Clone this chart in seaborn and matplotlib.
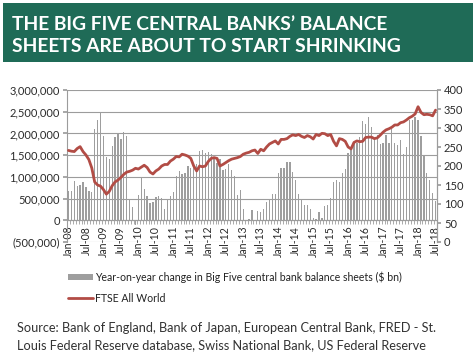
import numpy as np
import pandas as pd
import matplotlib
matplotlib.use("Agg")
import matplotlib.pyplot as plt
import matplotlib.patches as mpatches
from matplotlib.lines import Line2D
from matplotlib.ticker import FuncFormatter, FixedLocator
import seaborn as sns

# ---------------- data ----------------
months = pd.date_range("2008-01-01", "2018-07-01", freq="MS").strftime("%b-%y").tolist()

bs_change = [
    670, 670, 910, 780, 820, 880, 760, 670, 640, 2100, 2300, 2500,
    1930, 1450, 1410, 1700, 1920, 2000, 1880, 2030, 1950, 500, 300, -100,
    590, 990, 720, 570, 400, 410, 540, 550, 520, 260, 500, 550,
    640, 1020, 1130, 1060, 1080, 1240, 1200, 1260, 1300, 1590, 1610, 1540,
    1570, 1530, 1460, 1330, 1400, 1150, 1180, 1290, 1160, 1020, 590, 690,
    250, -10, 40, 230, 10, 215, 190, 250, 410, 485, 600, 615,
    1080, 1200, 1215, 1350, 1350, 1120, 920, 600, 485, 350, 350, 250,
    45, 25, 180, 60, 330, 350, 520, 890, 920, 890, 1080, 1180,
    1560, 1690, 1770, 1790, 1910, 2290, 2220, 2370, 2140, 1870, 1970, 1750,
    1790, 1970, 1770, 2100, 1790, 1740, 1850, 1520, 1690, 2310, 2310, 2370,
    2310, 1950, 1500, 1080, 930, 620, 450,
]
bs_change = [v * 1000 for v in bs_change]

ftse = [
    241, 239, 238, 246, 251, 238, 229, 217, 195, 158, 150, 147,
    138, 126, 133, 148, 158, 163, 170, 178, 184, 186, 189, 194,
    192, 197, 202, 196, 184, 179, 187, 192, 200, 204, 204, 213,
    218, 225, 224, 231, 229, 226, 220, 200, 187, 200, 198, 200,
    212, 220, 222, 220, 200, 204, 209, 214, 218, 220, 222, 225,
    231, 234, 236, 240, 242, 233, 244, 240, 250, 258, 262, 266,
    258, 270, 270, 272, 278, 282, 280, 283, 278, 275, 280, 277,
    271, 283, 280, 286, 285, 280, 283, 265, 253, 272, 270, 265,
    250, 245, 262, 266, 264, 265, 275, 276, 276, 272, 274, 281,
    289, 295, 298, 302, 308, 308, 314, 316, 321, 327, 331, 337,
    356, 341, 335, 336, 335, 332, 347,
]

title_lines = ["THE BIG FIVE CENTRAL BANKS\u2019 BALANCE",
               "SHEETS ARE ABOUT TO START SHRINKING"]
bar_label = "Year-on-year change in Big Five central bank balance sheets ($ bn)"
line_label = "FTSE All World"
source_lines = ["Source: Bank of England, Bank of Japan, European Central Bank, FRED - St.",
                "Louis Federal Reserve database, Swiss National Bank, US Federal Reserve"]

left_ticks = [-500000, 0, 500000, 1000000, 1500000, 2000000, 2500000, 3000000]
right_ticks = [0, 50, 100, 150, 200, 250, 300, 350, 400]

df = pd.DataFrame({"month": months, "pos": np.arange(len(months)),
                   "change": bs_change, "ftse": ftse})

# ---------------- style ----------------
sns.set_theme(style="white")
plt.rcParams["font.family"] = ["Lato", "DejaVu Sans"]

BAR = "#9e9e9e"
LINE = "#b24c45"
GRID = "#9c9c9c"
GREEN = "#1f6b57"
TXT = "#2b2b2b"

fig = plt.figure(figsize=(4.75, 3.57), dpi=100)
fig.patch.set_facecolor("white")

# title banner
fig.patches.append(mpatches.Rectangle((3 / 475, 1 - 62 / 357), 470 / 475, 59 / 357,
                                      transform=fig.transFigure, facecolor=GREEN,
                                      edgecolor="none", zorder=0))
fig.text(12 / 475, 1 - 24 / 357, title_lines[0], color="white", fontsize=13.9,
         fontweight="bold", va="center", ha="left")
fig.text(12 / 475, 1 - 47 / 357, title_lines[1], color="white", fontsize=13.9,
         fontweight="bold", va="center", ha="left")

ax = fig.add_axes([67 / 475, 1 - 242 / 357, 370 / 475, 152 / 357])
sns.barplot(data=df, x="pos", y="change", color=BAR, width=0.45, ax=ax,
            saturation=1, errorbar=None, edgecolor="none")
ax.set_ylim(-500000, 3000000)
ax.set_xlim(-0.5, len(months) - 0.5)
ax.yaxis.set_major_locator(FixedLocator(left_ticks))
ax.yaxis.set_major_formatter(FuncFormatter(
    lambda v, p: f"{v:,.0f}" if v >= 0 else f"({-v:,.0f})"))
ax.grid(axis="y", color=GRID, linewidth=0.8)
ax.set_axisbelow(True)
ax.set_xlabel("")
ax.set_ylabel("")
ax.set_xticks([])
ax.tick_params(axis="y", labelsize=8, labelcolor=TXT, length=3, color=GRID,
               left=True, pad=2)
for s in ["top", "bottom"]:
    ax.spines[s].set_visible(False)
for s in ["left", "right"]:
    ax.spines[s].set_color(GRID)
    ax.spines[s].set_linewidth(0.8)

# category axis at zero (Excel style): labels hang from the zero line
zero_frac = 500000 / 3500000
sec = ax.secondary_xaxis(zero_frac)
xt = list(range(0, len(months), 6))
sec.set_xticks(xt)
sec.set_xticklabels([months[i] for i in xt], rotation=90, fontsize=7.6, color=TXT)
sec.set_xticks(np.arange(-0.5, len(months), 1.0), minor=True)
sec.tick_params(axis="x", which="major", length=0, pad=4)
sec.tick_params(axis="x", which="minor", direction="out", length=3, color=GRID,
                width=0.6)
sec.spines["bottom"].set_color(GRID)
sec.spines["bottom"].set_linewidth(0.8)

ax2 = ax.twinx()
sns.lineplot(data=df, x="pos", y="ftse", color=LINE, linewidth=2.0, ax=ax2)
ax2.set_ylim(0, 400)
ax2.yaxis.set_major_locator(FixedLocator(right_ticks))
ax2.set_ylabel("")
ax2.set_xlabel("")
ax2.tick_params(axis="y", labelsize=8, labelcolor=TXT, length=3, color=GRID,
                right=True, pad=2)
for s in ["top", "bottom", "left"]:
    ax2.spines[s].set_visible(False)
ax2.spines["right"].set_color(GRID)
ax2.spines["right"].set_linewidth(0.8)
ax2.grid(False)

# legend
handles = [mpatches.Patch(facecolor=BAR, edgecolor="none"),
           Line2D([0], [0], color=LINE, linewidth=2.0)]
leg = fig.legend(handles, [bar_label, line_label], loc="upper left",
                 bbox_to_anchor=(64 / 475, 1 - 267 / 357), frameon=False,
                 fontsize=7.6, handlelength=2.3, handleheight=0.45,
                 handletextpad=0.2, labelspacing=0.95, borderaxespad=0)
for t in leg.get_texts():
    t.set_color("#222222")

fig.text(17 / 475, 1 - 328 / 357, source_lines[0], fontsize=9.2, color="#333333",
         va="center", ha="left")
fig.text(17 / 475, 1 - 345 / 357, source_lines[1], fontsize=9.2, color="#333333",
         va="center", ha="left")

fig.savefig("out.png", dpi=100)
